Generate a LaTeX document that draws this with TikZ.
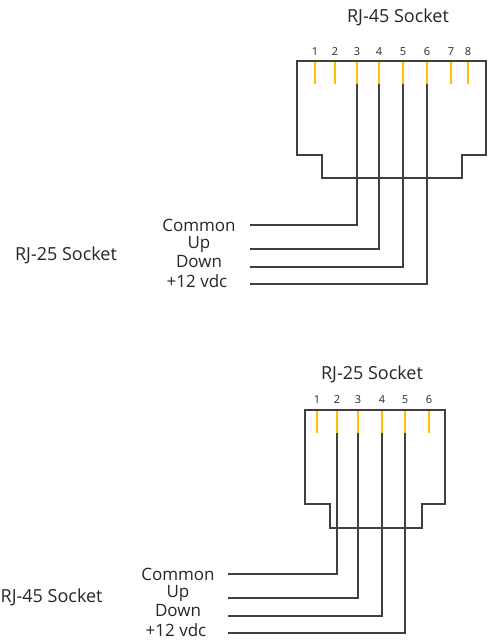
\documentclass[tikz,border=0pt]{standalone}
\usepackage{fontspec}
\setmainfont{Open Sans}
\definecolor{wiregray}{HTML}{404040}
\definecolor{pinyellow}{HTML}{FFC000}

\begin{document}
\begin{tikzpicture}[x=1pt,y=-1pt,
	wireline/.style={line width=1.6pt, color=wiregray},
	pinline/.style={line width=1.6pt, color=pinyellow},
	lbl/.style={font=\fontsize{18}{20}\selectfont, color=black!85, inner sep=0pt},
	wirelbl/.style={font=\fontsize{17}{19}\selectfont, color=black!85, inner sep=0pt},
	pinnum/.style={font=\fontsize{11}{13}\selectfont, color=black!85, inner sep=0pt}]
		%%%%% START %%%%%
		\useasboundingbox (0,0) rectangle (488,642);
		
		% RJ-45 socket (top)
		\node[lbl] (top45) at (398,17) {RJ-45 Socket};
		\draw[wireline] (297,61) -- (486,61) -- (486,155) -- (462,155) -- (462,178) -- (322,178) -- (322,155) -- (297,155) -- cycle;
		
		\node[pinnum] (ta1) at (315,52) {1};
		\node[pinnum] (ta2) at (335,52) {2};
		\node[pinnum] (ta3) at (357,52) {3};
		\node[pinnum] (ta4) at (379,52) {4};
		\node[pinnum] (ta5) at (403,52) {5};
		\node[pinnum] (ta6) at (427,52) {6};
		\node[pinnum] (ta7) at (451,52) {7};
		\node[pinnum] (ta8) at (468,52) {8};
		
		\coordinate (ap3) at (357,84);
		\coordinate (ap4) at (379,84);
		\coordinate (ap5) at (403,84);
		\coordinate (ap6) at (427,84);
		
		\draw[pinline] (315,62) -- (315,84);
		\draw[pinline] (335,62) -- (335,84);
		\draw[pinline] (357,62) -- (ap3);
		\draw[pinline] (379,62) -- (ap4);
		\draw[pinline] (403,62) -- (ap5);
		\draw[pinline] (427,62) -- (ap6);
		\draw[pinline] (451,62) -- (451,84);
		\draw[pinline] (468,62) -- (468,84);
		
		\node[lbl] (left25) at (66,255) {RJ-25 Socket};
		
		\node[wirelbl] (acom) at (199,225) {Common};
		\node[wirelbl] (aup) at (199,244) {Up};
		\node[wirelbl] (adown) at (199,262) {Down};
		\node[wirelbl] (apow) at (197,281) {+12 vdc};
		
		\coordinate (aw1) at (250,225);
		\coordinate (aw2) at (250,249);
		\coordinate (aw3) at (250,267);
		\coordinate (aw4) at (250,284);
		
		\draw[wireline] (aw1) -| (ap3);
		\draw[wireline] (aw2) -| (ap4);
		\draw[wireline] (aw3) -| (ap5);
		\draw[wireline] (aw4) -| (ap6);
		
		% RJ-25 socket (bottom)
		\node[lbl] (top25) at (372,374) {RJ-25 Socket};
		\draw[wireline] (305,410) -- (445,410) -- (445,504) -- (422,504) -- (422,528) -- (330,528) -- (330,504) -- (305,504) -- cycle;
		
		\node[pinnum] (tb1) at (317,400) {1};
		\node[pinnum] (tb2) at (337,400) {2};
		\node[pinnum] (tb3) at (358,400) {3};
		\node[pinnum] (tb4) at (382,400) {4};
		\node[pinnum] (tb5) at (405,400) {5};
		\node[pinnum] (tb6) at (429,400) {6};
		
		\coordinate (bp2) at (337,433);
		\coordinate (bp3) at (358,433);
		\coordinate (bp4) at (382,433);
		\coordinate (bp5) at (405,433);
		
		\draw[pinline] (317,411) -- (317,433);
		\draw[pinline] (337,411) -- (bp2);
		\draw[pinline] (358,411) -- (bp3);
		\draw[pinline] (382,411) -- (bp4);
		\draw[pinline] (405,411) -- (bp5);
		\draw[pinline] (429,411) -- (429,433);
		
		\node[lbl, anchor=west] (left45) at (0.5,597) {RJ-45 Socket};
		
		\node[wirelbl] (bcom) at (178,574) {Common};
		\node[wirelbl] (bup) at (178,593) {Up};
		\node[wirelbl] (bdown) at (178,611) {Down};
		\node[wirelbl] (bpow) at (176,630) {+12 vdc};
		
		\coordinate (bw1) at (228,574);
		\coordinate (bw2) at (228,598);
		\coordinate (bw3) at (228,616);
		\coordinate (bw4) at (228,633);
		
		\draw[wireline] (bw1) -| (bp2);
		\draw[wireline] (bw2) -| (bp3);
		\draw[wireline] (bw3) -| (bp4);
		\draw[wireline] (bw4) -| (bp5);
		
		%%%%% END %%%%%
\end{tikzpicture}
\end{document}
